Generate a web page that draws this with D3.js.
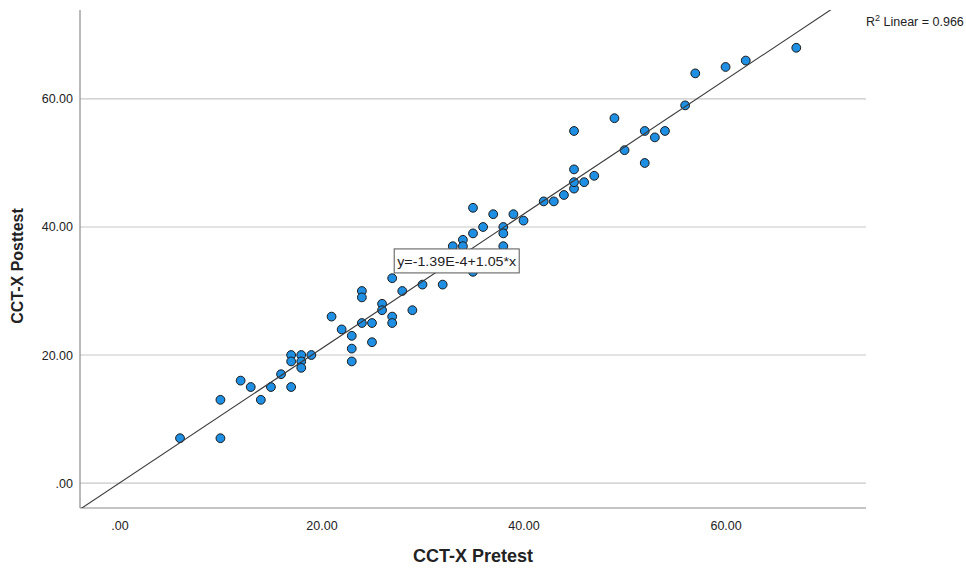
<!DOCTYPE html>
<html>
<head>
<meta charset="utf-8">
<script src="https://cdn.jsdelivr.net/npm/d3@7"></script>
<style>
  body { margin: 0; background: #fff; }
  text { font-family: 'Liberation Sans', Arial, sans-serif; fill: #222; }
  .grid line { stroke: #c8c8c8; stroke-width: 1.2; }
  .axis-line { stroke: #8a8a8a; stroke-width: 1.2; }
  .fit { stroke: #3a3a3a; stroke-width: 1.1; fill: none; }
  .dot { fill: #1e8fe3; stroke: #1a1a1a; stroke-width: 1; }
</style>
</head>
<body>
<div id="chart"></div>
<script>
(function(){

  // pretest / posttest scores
  var pretest  = [6, 10, 10, 12, 13, 14, 15, 16, 17, 17, 17, 18, 18, 18, 19,
                  21, 22, 23, 23, 23, 24, 24, 24, 25, 25, 26, 26, 27, 27, 27,
                  28, 29, 30, 32, 33, 34, 34, 35, 35, 35, 36, 37, 38, 38, 38,
                  39, 40, 42, 43, 44, 45, 45, 45, 45, 46, 47, 49, 50, 52, 52,
                  53, 54, 56, 57, 60, 62, 67];
  var posttest = [7, 7, 13, 16, 15, 13, 15, 17, 15, 20, 19, 20, 19, 18, 20,
                  26, 24, 23, 21, 19, 30, 29, 25, 25, 22, 28, 27, 32, 26, 25,
                  30, 27, 31, 31, 37, 38, 37, 39, 33, 43, 40, 42, 40, 39, 37,
                  42, 41, 44, 44, 45, 46, 47, 49, 55, 47, 48, 57, 52, 55, 50,
                  54, 55, 59, 64, 65, 66, 68];

  var tickValues = [0, 20, 40, 60];
  var tickLabels = ['.00', '20.00', '40.00', '60.00'];

  var fitIntercept = -1.39e-4;
  var fitSlope = 1.05;
  var fitLabel = 'y=-1.39E-4+1.05*x';
  var rSquared = '0.966';

  var xTitle = 'CCT-X Pretest';
  var yTitle = 'CCT-X Posttest';

  var W = 966, H = 568;
  var left = 80, right = 866, top = 10, bottom = 508;

  var x = d3.scaleLinear().domain([-3.9, 73.9]).range([left, right]);
  var y = d3.scaleLinear().domain([-3.9, 73.9]).range([bottom, top]);

  var svg = d3.select('#chart').append('svg')
    .attr('width', W)
    .attr('height', H);

  svg.append('defs').append('clipPath')
      .attr('id', 'plot-clip')
    .append('rect')
      .attr('x', left).attr('y', top)
      .attr('width', right - left).attr('height', bottom - top);

  // horizontal grid lines
  svg.append('g').attr('class', 'grid')
    .selectAll('line')
    .data(tickValues)
    .enter().append('line')
      .attr('x1', left).attr('x2', right)
      .attr('y1', function(d){ return y(d); })
      .attr('y2', function(d){ return y(d); });

  // axes: only the line and the labels, no tick marks
  var xAxis = d3.axisBottom(x)
    .tickValues(tickValues)
    .tickSize(0)
    .tickPadding(13)
    .tickFormat(function(d, i){ return tickLabels[i]; });

  var yAxis = d3.axisLeft(y)
    .tickValues(tickValues)
    .tickSize(0)
    .tickPadding(7)
    .tickFormat(function(d, i){ return tickLabels[i]; });

  var gx = svg.append('g')
    .attr('transform', 'translate(0,' + bottom + ')')
    .call(xAxis);
  var gy = svg.append('g')
    .attr('transform', 'translate(' + left + ',0)')
    .call(yAxis);

  [gx, gy].forEach(function(g){
    g.select('.domain').remove();
    g.selectAll('text')
      .attr('font-size', '12.5px')
      .attr('font-family', "'Liberation Sans', Arial, sans-serif")
      .attr('fill', '#222');
  });

  svg.append('line').attr('class', 'axis-line')
    .attr('x1', left).attr('x2', left)
    .attr('y1', top).attr('y2', bottom);
  svg.append('line').attr('class', 'axis-line')
    .attr('x1', left).attr('x2', right)
    .attr('y1', bottom).attr('y2', bottom);

  // points
  var points = pretest.map(function(d, i){ return [d, posttest[i]]; });

  svg.append('g')
    .selectAll('circle')
    .data(points)
    .enter().append('circle')
      .attr('class', 'dot')
      .attr('r', 4.4)
      .attr('cx', function(d){ return x(d[0]); })
      .attr('cy', function(d){ return y(d[1]); });

  // fit line across the whole plot, clipped to the frame
  var xd = x.domain();
  var fitLine = d3.line()
    .x(function(d){ return x(d); })
    .y(function(d){ return y(fitIntercept + fitSlope * d); });

  svg.append('path')
    .datum([xd[0], xd[1]])
    .attr('class', 'fit')
    .attr('clip-path', 'url(#plot-clip)')
    .attr('d', fitLine);

  // equation label, drawn over the points
  var lab = svg.append('g')
    .attr('transform', 'translate(' + x(27.2) + ',' + y(34.7) + ')');
  lab.append('rect')
    .attr('x', 0)
    .attr('y', -12)
    .attr('width', 125)
    .attr('height', 24)
    .attr('fill', '#fff')
    .attr('stroke', '#555')
    .attr('stroke-width', 1);
  lab.append('text')
    .attr('x', 3)
    .attr('y', 0)
    .attr('dy', '0.36em')
    .attr('font-size', '13.5px')
    .attr('textLength', 119)
    .attr('lengthAdjust', 'spacingAndGlyphs')
    .text(fitLabel);

  // R squared note
  var r2 = svg.append('text')
    .attr('x', 866)
    .attr('y', 26)
    .attr('font-size', '12.5px');
  r2.append('tspan').text('R');
  r2.append('tspan').attr('dy', '-5').attr('font-size', '9px').text('2');
  r2.append('tspan').attr('dy', '5').text(' Linear = ' + rSquared);

  // axis titles
  svg.append('text')
    .attr('x', 473)
    .attr('y', 562)
    .attr('text-anchor', 'middle')
    .attr('font-size', '18px')
    .attr('font-weight', 'bold')
    .text(xTitle);

  svg.append('text')
    .attr('transform', 'translate(23,266) rotate(-90)')
    .attr('text-anchor', 'middle')
    .attr('font-size', '16px')
    .attr('font-weight', 'bold')
    .text(yTitle);

})();
</script>
</body>
</html>
